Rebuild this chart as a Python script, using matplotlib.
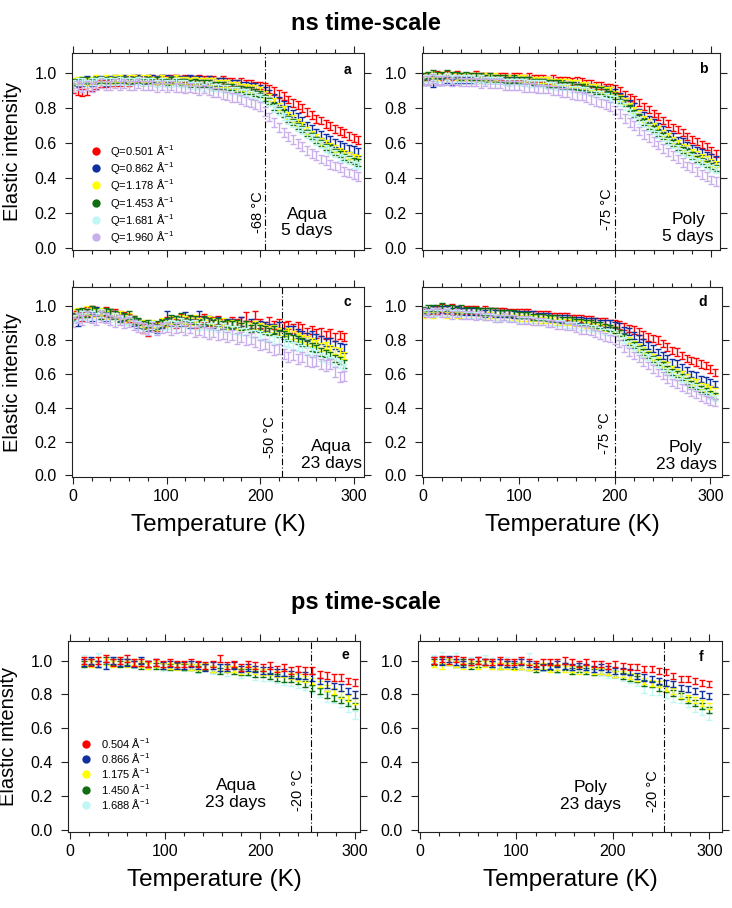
import numpy as np
import matplotlib
matplotlib.use("Agg")
import matplotlib.pyplot as plt
from matplotlib.lines import Line2D
from matplotlib.ticker import MultipleLocator, FormatStrFormatter

plt.rcParams['font.family'] = ['Liberation Sans', 'DejaVu Sans']
plt.rcParams['mathtext.fontset'] = 'custom'
plt.rcParams['mathtext.rm'] = 'Liberation Sans'
plt.rcParams['mathtext.it'] = 'Liberation Sans:italic'
plt.rcParams['mathtext.bf'] = 'Liberation Sans:bold'

# ---------------- data ----------------
# ns time-scale, temperature grid (K)
ns_temp = [0, 5, 10, 15, 20, 25, 30, 35, 40, 45,
           50, 55, 60, 65, 70, 75, 80, 85, 90, 95,
           100, 105, 110, 115, 120, 125, 130, 135, 140, 145,
           150, 155, 160, 165, 170, 175, 180, 185, 190, 195,
           200, 205, 210, 215, 220, 225, 230, 235, 240, 245,
           250, 255, 260, 265, 270, 275, 280, 285, 290, 295,
           300, 305]
ns_q_labels = ["Q=0.501 Å$^{-1}$", "Q=0.862 Å$^{-1}$", "Q=1.178 Å$^{-1}$",
               "Q=1.453 Å$^{-1}$", "Q=1.681 Å$^{-1}$", "Q=1.960 Å$^{-1}$"]

# panel a : Aqua 5 days
a_red = [0.91, 0.90, 0.89, 0.90, 0.92, 0.93, 0.94, 0.94, 0.95, 0.95,
         0.95, 0.96, 0.95, 0.96, 0.97, 0.96, 0.96, 0.97, 0.96, 0.97,
         0.96, 0.97, 0.97, 0.96, 0.97, 0.96, 0.96, 0.97, 0.96, 0.96,
         0.96, 0.95, 0.96, 0.95, 0.95, 0.94, 0.95, 0.94, 0.94, 0.93,
         0.93, 0.92, 0.91, 0.90, 0.88, 0.87, 0.85, 0.83, 0.82, 0.80,
         0.78, 0.76, 0.74, 0.73, 0.71, 0.70, 0.68, 0.67, 0.66, 0.64,
         0.63, 0.62]
a_blue = [0.94, 0.95, 0.95, 0.96, 0.95, 0.96, 0.96, 0.95, 0.96, 0.97,
          0.96, 0.97, 0.96, 0.97, 0.97, 0.96, 0.97, 0.97, 0.96, 0.97,
          0.97, 0.96, 0.97, 0.96, 0.96, 0.97, 0.96, 0.96, 0.95, 0.96,
          0.95, 0.95, 0.95, 0.94, 0.94, 0.94, 0.93, 0.93, 0.92, 0.92,
          0.91, 0.90, 0.88, 0.86, 0.84, 0.82, 0.79, 0.77, 0.75, 0.73,
          0.70, 0.68, 0.66, 0.65, 0.63, 0.62, 0.60, 0.59, 0.58, 0.57,
          0.56, 0.55]
a_yellow = [0.95, 0.96, 0.96, 0.95, 0.96, 0.97, 0.96, 0.97, 0.96, 0.97,
            0.97, 0.96, 0.97, 0.97, 0.96, 0.97, 0.97, 0.96, 0.96, 0.97,
            0.96, 0.96, 0.97, 0.96, 0.96, 0.95, 0.96, 0.95, 0.95, 0.95,
            0.95, 0.94, 0.94, 0.94, 0.93, 0.93, 0.92, 0.92, 0.91, 0.91,
            0.90, 0.88, 0.86, 0.84, 0.81, 0.79, 0.76, 0.74, 0.72, 0.70,
            0.67, 0.65, 0.63, 0.61, 0.60, 0.58, 0.57, 0.55, 0.54, 0.53,
            0.52, 0.51]
a_green = [0.95, 0.95, 0.96, 0.96, 0.95, 0.96, 0.96, 0.96, 0.95, 0.96,
           0.96, 0.96, 0.95, 0.96, 0.96, 0.95, 0.96, 0.95, 0.96, 0.95,
           0.95, 0.96, 0.95, 0.95, 0.95, 0.94, 0.95, 0.94, 0.94, 0.94,
           0.93, 0.93, 0.93, 0.92, 0.92, 0.91, 0.91, 0.90, 0.90, 0.89,
           0.88, 0.86, 0.84, 0.81, 0.79, 0.77, 0.74, 0.72, 0.70, 0.68,
           0.66, 0.64, 0.62, 0.60, 0.58, 0.57, 0.55, 0.54, 0.52, 0.51,
           0.50, 0.49]
a_cyan = [0.94, 0.95, 0.95, 0.94, 0.95, 0.95, 0.96, 0.95, 0.95, 0.95,
          0.96, 0.95, 0.95, 0.95, 0.96, 0.95, 0.95, 0.95, 0.94, 0.95,
          0.94, 0.94, 0.95, 0.94, 0.94, 0.93, 0.93, 0.93, 0.92, 0.93,
          0.92, 0.92, 0.91, 0.91, 0.90, 0.90, 0.89, 0.89, 0.88, 0.87,
          0.86, 0.85, 0.83, 0.80, 0.78, 0.75, 0.73, 0.71, 0.69, 0.67,
          0.65, 0.63, 0.61, 0.59, 0.57, 0.56, 0.54, 0.52, 0.51, 0.50,
          0.48, 0.47]
a_lilac = [0.92, 0.93, 0.92, 0.93, 0.92, 0.93, 0.94, 0.93, 0.93, 0.94,
           0.93, 0.94, 0.93, 0.93, 0.94, 0.93, 0.93, 0.93, 0.92, 0.93,
           0.92, 0.93, 0.92, 0.92, 0.91, 0.92, 0.91, 0.90, 0.91, 0.90,
           0.89, 0.89, 0.88, 0.87, 0.86, 0.86, 0.85, 0.84, 0.83, 0.82,
           0.81, 0.78, 0.75, 0.72, 0.69, 0.66, 0.64, 0.62, 0.60, 0.58,
           0.56, 0.54, 0.53, 0.51, 0.50, 0.48, 0.47, 0.46, 0.44, 0.43,
           0.42, 0.41]

# panel b : Poly 5 days
b_red = [0.97, 0.98, 0.98, 0.99, 0.98, 0.99, 0.98, 0.99, 0.98, 0.98,
         0.98, 0.99, 0.98, 0.98, 0.98, 0.97, 0.98, 0.98, 0.97, 0.98,
         0.98, 0.97, 0.98, 0.97, 0.97, 0.97, 0.96, 0.97, 0.96, 0.96,
         0.96, 0.95, 0.96, 0.95, 0.94, 0.94, 0.93, 0.93, 0.92, 0.92,
         0.91, 0.90, 0.88, 0.86, 0.85, 0.83, 0.81, 0.79, 0.77, 0.75,
         0.73, 0.71, 0.69, 0.68, 0.66, 0.64, 0.62, 0.61, 0.59, 0.58,
         0.56, 0.54]
b_blue = [0.95, 0.95, 0.94, 0.95, 0.95, 0.96, 0.95, 0.96, 0.96, 0.96,
          0.96, 0.96, 0.97, 0.96, 0.96, 0.96, 0.96, 0.96, 0.95, 0.96,
          0.96, 0.95, 0.96, 0.95, 0.95, 0.95, 0.94, 0.94, 0.94, 0.94,
          0.93, 0.93, 0.93, 0.92, 0.92, 0.92, 0.91, 0.91, 0.91, 0.90,
          0.89, 0.87, 0.85, 0.83, 0.81, 0.78, 0.76, 0.74, 0.72, 0.70,
          0.68, 0.66, 0.64, 0.62, 0.61, 0.59, 0.57, 0.56, 0.55, 0.53,
          0.52, 0.51]
b_yellow = [0.98, 0.99, 0.99, 0.98, 0.99, 0.98, 0.99, 0.98, 0.98, 0.98,
            0.98, 0.98, 0.97, 0.98, 0.97, 0.98, 0.97, 0.97, 0.97, 0.97,
            0.97, 0.97, 0.96, 0.96, 0.96, 0.96, 0.96, 0.95, 0.95, 0.95,
            0.95, 0.94, 0.94, 0.93, 0.93, 0.92, 0.92, 0.91, 0.90, 0.90,
            0.88, 0.86, 0.84, 0.81, 0.79, 0.77, 0.74, 0.72, 0.70, 0.68,
            0.66, 0.64, 0.62, 0.60, 0.58, 0.57, 0.55, 0.54, 0.52, 0.51,
            0.49, 0.48]
b_green = [0.98, 0.99, 1.00, 0.99, 0.99, 1.00, 0.99, 0.99, 0.98, 0.99,
           0.98, 0.98, 0.98, 0.97, 0.98, 0.97, 0.97, 0.97, 0.96, 0.97,
           0.96, 0.96, 0.96, 0.95, 0.95, 0.95, 0.94, 0.94, 0.94, 0.93,
           0.93, 0.93, 0.92, 0.92, 0.91, 0.91, 0.90, 0.90, 0.89, 0.88,
           0.87, 0.85, 0.83, 0.80, 0.77, 0.75, 0.72, 0.70, 0.68, 0.66,
           0.64, 0.62, 0.60, 0.58, 0.56, 0.55, 0.53, 0.51, 0.50, 0.48,
           0.47, 0.46]
b_cyan = [0.97, 0.97, 0.98, 0.97, 0.97, 0.98, 0.97, 0.97, 0.97, 0.97,
          0.97, 0.96, 0.97, 0.96, 0.96, 0.96, 0.96, 0.95, 0.95, 0.95,
          0.95, 0.95, 0.94, 0.94, 0.94, 0.94, 0.93, 0.93, 0.92, 0.92,
          0.92, 0.91, 0.91, 0.90, 0.90, 0.89, 0.88, 0.88, 0.87, 0.86,
          0.85, 0.83, 0.81, 0.78, 0.76, 0.73, 0.71, 0.69, 0.67, 0.65,
          0.63, 0.61, 0.59, 0.57, 0.55, 0.54, 0.52, 0.50, 0.49, 0.47,
          0.46, 0.45]
b_lilac = [0.96, 0.96, 0.97, 0.96, 0.96, 0.96, 0.95, 0.96, 0.95, 0.95,
           0.95, 0.95, 0.94, 0.95, 0.94, 0.94, 0.94, 0.93, 0.93, 0.93,
           0.93, 0.92, 0.92, 0.92, 0.91, 0.91, 0.91, 0.90, 0.90, 0.89,
           0.89, 0.88, 0.87, 0.87, 0.86, 0.85, 0.84, 0.83, 0.82, 0.81,
           0.79, 0.77, 0.74, 0.72, 0.70, 0.67, 0.65, 0.63, 0.61, 0.59,
           0.57, 0.55, 0.53, 0.51, 0.49, 0.47, 0.46, 0.44, 0.42, 0.41,
           0.39, 0.38]

# panel c : Aqua 23 days
nan = np.nan
c_red = [0.95, 0.96, 0.94, 0.97, 0.98, 0.97, 0.96, 0.97, 0.95, 0.96,
         0.95, 0.94, 0.93, 0.92, 0.90, 0.87, 0.85, 0.89, 0.88, 0.90,
         0.91, 0.92, 0.90, 0.93, 0.91, 0.92, 0.90, 0.92, 0.93, 0.91,
         0.91, 0.92, 0.90, 0.89, 0.91, 0.90, 0.91, 0.94, 0.89, 0.95,
         0.90, 0.88, 0.91, 0.89, 0.90, 0.88, 0.89, 0.87, 0.88, 0.87,
         0.85, 0.86, 0.84, 0.85, 0.83, 0.84, 0.82, 0.83, 0.82, nan,
         nan, nan]
c_blue = [0.93, 0.91, 0.95, 0.96, 0.94, 0.97, 0.95, 0.94, 0.96, 0.95,
          0.94, 0.93, 0.92, 0.91, 0.90, 0.89, 0.88, 0.89, 0.87, 0.90,
          0.95, 0.91, 0.92, 0.91, 0.94, 0.90, 0.92, 0.95, 0.91, 0.92,
          0.90, 0.91, 0.89, 0.90, 0.90, 0.89, 0.91, 0.89, 0.90, 0.88,
          0.89, 0.88, 0.87, 0.87, 0.88, 0.85, 0.86, 0.86, 0.84, 0.83,
          0.82, 0.83, 0.81, 0.80, 0.79, 0.79, 0.77, 0.76, 0.75, nan,
          nan, nan]
c_yellow = [0.96, 0.97, 0.96, 0.98, 0.97, 0.96, 0.97, 0.95, 0.96, 0.94,
            0.95, 0.93, 0.94, 0.92, 0.91, 0.90, 0.89, 0.90, 0.88, 0.91,
            0.90, 0.92, 0.91, 0.93, 0.92, 0.91, 0.93, 0.91, 0.90, 0.92,
            0.91, 0.90, 0.91, 0.89, 0.90, 0.89, 0.88, 0.89, 0.88, 0.89,
            0.88, 0.87, 0.86, 0.87, 0.85, 0.84, 0.85, 0.83, 0.82, 0.81,
            0.80, 0.79, 0.78, 0.76, 0.77, 0.75, 0.74, 0.73, 0.71, nan,
            nan, nan]
c_green = [0.94, 0.96, 0.97, 0.96, 0.98, 0.97, 0.95, 0.97, 0.96, 0.95,
           0.93, 0.94, 0.95, 0.92, 0.91, 0.89, 0.90, 0.88, 0.89, 0.90,
           0.91, 0.93, 0.92, 0.94, 0.91, 0.93, 0.92, 0.90, 0.92, 0.91,
           0.90, 0.91, 0.89, 0.90, 0.89, 0.90, 0.88, 0.89, 0.87, 0.88,
           0.87, 0.86, 0.85, 0.86, 0.84, 0.83, 0.82, 0.81, 0.80, 0.79,
           0.78, 0.76, 0.75, 0.73, 0.72, 0.71, 0.69, 0.68, 0.66, nan,
           nan, nan]
c_cyan = [0.93, 0.94, 0.95, 0.94, 0.95, 0.94, 0.96, 0.94, 0.93, 0.94,
          0.92, 0.91, 0.92, 0.90, 0.89, 0.88, 0.87, 0.89, 0.86, 0.88,
          0.89, 0.90, 0.89, 0.91, 0.90, 0.89, 0.90, 0.88, 0.89, 0.88,
          0.88, 0.87, 0.88, 0.87, 0.86, 0.86, 0.85, 0.85, 0.84, 0.84,
          0.83, 0.82, 0.82, 0.80, 0.80, 0.79, 0.78, 0.77, 0.76, 0.75,
          0.74, 0.73, 0.72, 0.70, 0.69, 0.68, 0.67, 0.66, 0.64, nan,
          nan, nan]
c_lilac = [0.91, 0.93, 0.92, 0.94, 0.93, 0.92, 0.94, 0.93, 0.92, 0.91,
           0.92, 0.90, 0.91, 0.89, 0.88, 0.87, 0.86, 0.88, 0.86, 0.87,
           0.88, 0.86, 0.87, 0.88, 0.86, 0.87, 0.85, 0.86, 0.85, 0.84,
           0.85, 0.83, 0.84, 0.82, 0.83, 0.81, 0.82, 0.80, 0.81, 0.79,
           0.77, 0.78, 0.76, 0.74, 0.75, 0.72, 0.70, 0.71, 0.69, 0.70,
           0.68, 0.67, 0.68, 0.66, 0.65, 0.66, 0.61, 0.58, 0.59, nan,
           nan, nan]

# panel d : Poly 23 days
d_red = [0.96, 0.97, 0.98, 0.98, 0.99, 0.98, 0.99, 0.98, 0.97, 0.98,
         0.98, 0.98, 0.97, 0.98, 0.97, 0.97, 0.97, 0.97, 0.96, 0.96,
         0.96, 0.96, 0.96, 0.95, 0.95, 0.95, 0.95, 0.94, 0.94, 0.94,
         0.94, 0.93, 0.93, 0.93, 0.92, 0.92, 0.91, 0.91, 0.91, 0.90,
         0.90, 0.89, 0.88, 0.87, 0.86, 0.85, 0.83, 0.82, 0.81, 0.80,
         0.78, 0.76, 0.74, 0.73, 0.71, 0.69, 0.68, 0.67, 0.66, 0.65,
         0.63, 0.61]
d_blue = [0.97, 0.97, 0.98, 0.97, 0.98, 0.98, 0.97, 0.98, 0.97, 0.97,
          0.97, 0.97, 0.97, 0.96, 0.97, 0.96, 0.96, 0.96, 0.96, 0.95,
          0.95, 0.95, 0.95, 0.95, 0.94, 0.94, 0.94, 0.93, 0.93, 0.93,
          0.93, 0.92, 0.92, 0.92, 0.91, 0.91, 0.91, 0.90, 0.90, 0.90,
          0.89, 0.88, 0.86, 0.85, 0.83, 0.81, 0.79, 0.77, 0.75, 0.73,
          0.71, 0.69, 0.67, 0.66, 0.64, 0.62, 0.60, 0.59, 0.57, 0.56,
          0.55, 0.54]
d_yellow = [0.95, 0.96, 0.95, 0.96, 0.96, 0.95, 0.96, 0.95, 0.95, 0.95,
            0.95, 0.95, 0.95, 0.94, 0.95, 0.94, 0.94, 0.94, 0.93, 0.94,
            0.93, 0.93, 0.93, 0.93, 0.92, 0.92, 0.92, 0.92, 0.91, 0.91,
            0.91, 0.91, 0.90, 0.90, 0.89, 0.89, 0.88, 0.88, 0.87, 0.87,
            0.86, 0.84, 0.82, 0.80, 0.78, 0.76, 0.74, 0.72, 0.70, 0.68,
            0.66, 0.65, 0.63, 0.61, 0.60, 0.58, 0.56, 0.55, 0.53, 0.52,
            0.51, 0.50]
d_green = [0.98, 0.99, 0.99, 0.99, 1.00, 0.99, 0.99, 0.98, 0.99, 0.98,
           0.98, 0.98, 0.97, 0.97, 0.97, 0.97, 0.96, 0.96, 0.96, 0.96,
           0.95, 0.95, 0.95, 0.94, 0.94, 0.94, 0.93, 0.93, 0.93, 0.92,
           0.92, 0.92, 0.91, 0.91, 0.90, 0.90, 0.89, 0.89, 0.88, 0.87,
           0.86, 0.84, 0.82, 0.79, 0.77, 0.75, 0.73, 0.71, 0.69, 0.67,
           0.65, 0.63, 0.61, 0.60, 0.58, 0.56, 0.54, 0.53, 0.51, 0.50,
           0.48, 0.47]
d_cyan = [0.96, 0.96, 0.97, 0.96, 0.96, 0.97, 0.96, 0.96, 0.96, 0.95,
          0.95, 0.95, 0.95, 0.94, 0.94, 0.94, 0.93, 0.93, 0.93, 0.93,
          0.92, 0.92, 0.92, 0.92, 0.91, 0.91, 0.91, 0.90, 0.90, 0.90,
          0.89, 0.89, 0.89, 0.88, 0.88, 0.87, 0.87, 0.86, 0.85, 0.85,
          0.84, 0.82, 0.80, 0.78, 0.76, 0.74, 0.72, 0.70, 0.68, 0.66,
          0.64, 0.62, 0.60, 0.58, 0.57, 0.55, 0.53, 0.52, 0.50, 0.49,
          0.47, 0.46]
d_lilac = [0.97, 0.96, 0.96, 0.97, 0.96, 0.96, 0.95, 0.96, 0.95, 0.95,
           0.95, 0.94, 0.95, 0.94, 0.94, 0.93, 0.93, 0.94, 0.93, 0.93,
           0.92, 0.92, 0.92, 0.91, 0.91, 0.91, 0.90, 0.90, 0.89, 0.89,
           0.88, 0.88, 0.87, 0.86, 0.86, 0.85, 0.84, 0.83, 0.82, 0.81,
           0.80, 0.78, 0.75, 0.73, 0.71, 0.69, 0.67, 0.65, 0.63, 0.61,
           0.59, 0.57, 0.55, 0.54, 0.52, 0.51, 0.49, 0.48, 0.46, 0.45,
           0.44, 0.43]

# ps time-scale
ps_temp = [15, 22.5, 30, 37.5, 45, 52.5, 60, 67.5, 75, 82.5,
           90, 97.5, 105, 112.5, 120, 127.5, 135, 142.5, 150, 157.5,
           165, 172.5, 180, 187.5, 195, 202.5, 210, 217.5, 225, 232.5,
           240, 247.5, 255, 262.5, 270, 277.5, 285, 292.5, 300]
ps_q_labels = ["0.504 Å$^{-1}$", "0.866 Å$^{-1}$", "1.175 Å$^{-1}$",
               "1.450 Å$^{-1}$", "1.688 Å$^{-1}$"]

e_red = [1.00, 0.99, 1.00, 1.01, 0.99, 1.00, 1.01, 0.99, 0.99, 0.98,
         0.99, 0.98, 0.99, 0.98, 0.98, 0.99, 0.98, 0.97, 0.98, 1.01,
         0.97, 0.98, 0.96, 0.98, 0.97, 0.96, 0.97, 0.95, 0.96, 0.94,
         0.95, 0.94, 0.94, 0.92, 0.91, 0.90, 0.90, 0.88, 0.87]
e_blue = [0.99, 1.00, 0.98, 0.97, 1.00, 0.99, 0.99, 0.98, 1.00, 0.98,
          0.99, 0.97, 0.98, 0.97, 0.97, 0.98, 0.97, 0.96, 0.97, 0.96,
          0.96, 0.97, 0.95, 0.96, 0.95, 0.94, 0.94, 0.93, 0.93, 0.92,
          0.91, 0.91, 0.90, 0.88, 0.86, 0.85, 0.84, 0.82, 0.80]
e_yellow = [0.99, 0.98, 1.00, 0.99, 0.98, 1.00, 0.98, 0.99, 0.98, 0.97,
            0.98, 0.97, 0.97, 0.96, 0.97, 0.96, 0.96, 0.97, 0.95, 0.96,
            0.95, 0.95, 0.94, 0.95, 0.94, 0.93, 0.93, 0.92, 0.92, 0.91,
            0.90, 0.89, 0.88, 0.86, 0.84, 0.82, 0.80, 0.78, 0.76]
e_green = [0.98, 0.99, 0.98, 1.00, 0.99, 0.98, 0.99, 0.98, 0.97, 0.98,
           0.97, 0.97, 0.96, 0.97, 0.96, 0.96, 0.95, 0.96, 0.95, 0.94,
           0.95, 0.94, 0.93, 0.93, 0.92, 0.92, 0.91, 0.90, 0.89, 0.89,
           0.88, 0.86, 0.84, 0.82, 0.80, 0.78, 0.77, 0.75, 0.73]
e_cyan = [1.01, 0.99, 1.02, 0.98, 1.00, 0.99, 1.01, 0.98, 0.99, 0.97,
          0.98, 0.96, 0.98, 0.97, 0.96, 0.97, 0.95, 0.96, 0.94, 0.95,
          0.93, 0.94, 0.92, 0.93, 0.91, 0.90, 0.90, 0.89, 0.88, 0.87,
          0.86, 0.85, 0.83, 0.81, 0.78, 0.77, 0.75, 0.72, 0.68]

f_red = [1.00, 1.01, 1.00, 1.01, 1.00, 0.99, 1.00, 0.99, 0.99, 1.00,
         0.99, 0.99, 1.00, 0.99, 0.98, 0.99, 0.99, 0.99, 1.00, 0.99,
         0.98, 0.99, 0.98, 0.98, 0.97, 0.98, 0.97, 0.96, 0.96, 0.95,
         0.95, 0.94, 0.93, 0.91, 0.89, 0.89, 0.88, 0.87, 0.86]
f_blue = [1.00, 0.99, 1.01, 0.99, 0.98, 0.99, 1.00, 0.99, 0.98, 0.99,
          0.98, 0.98, 0.99, 0.98, 0.97, 0.96, 0.97, 0.98, 0.97, 0.96,
          0.97, 0.96, 0.95, 0.96, 0.95, 0.94, 0.94, 0.93, 0.91, 0.90,
          0.89, 0.88, 0.87, 0.86, 0.84, 0.83, 0.82, 0.80, 0.79]
f_yellow = [0.98, 0.97, 0.99, 0.98, 0.97, 0.98, 0.97, 0.98, 0.97, 0.97,
            0.97, 0.96, 0.97, 0.96, 0.96, 0.97, 0.95, 0.96, 0.95, 0.95,
            0.94, 0.95, 0.94, 0.94, 0.93, 0.92, 0.92, 0.91, 0.90, 0.88,
            0.87, 0.86, 0.84, 0.82, 0.80, 0.78, 0.77, 0.75, 0.73]
f_green = [0.99, 1.00, 0.99, 0.98, 0.99, 0.97, 0.98, 0.99, 0.98, 0.97,
           0.98, 0.97, 0.97, 0.96, 0.95, 0.96, 0.96, 0.95, 0.96, 0.94,
           0.95, 0.94, 0.93, 0.94, 0.93, 0.92, 0.91, 0.90, 0.89, 0.87,
           0.86, 0.84, 0.83, 0.81, 0.79, 0.77, 0.75, 0.73, 0.71]
f_cyan = [1.01, 1.03, 1.00, 1.02, 0.99, 1.00, 0.98, 1.01, 0.99, 0.98,
          1.00, 0.97, 0.99, 1.02, 0.97, 0.96, 0.98, 0.95, 0.97, 0.96,
          0.95, 0.96, 0.94, 0.93, 0.92, 0.92, 0.90, 0.89, 0.87, 0.83,
          0.82, 0.82, 0.80, 0.78, 0.77, 0.75, 0.72, 0.70, 0.67]

# error bar half-widths per series
err_a = [0.022, 0.022, 0.02, 0.018, 0.02, 0.025]
err_b = [0.02, 0.018, 0.018, 0.018, 0.018, 0.025]
err_c = [0.025, 0.025, 0.022, 0.022, 0.022, 0.03]
err_d = [0.022, 0.02, 0.018, 0.018, 0.018, 0.022]
err_e = [0.02, 0.02, 0.018, 0.018, 0.022]
err_f = [0.018, 0.018, 0.018, 0.018, 0.022]

colors = ['#ff0000', '#1030a0', '#ffff00', '#126e12', '#bff7f7', '#c8aeea']


def panel(ax, temps, series, errs, xlim, line_T, line_txt, line_pos,
          sample, sample_pos, letter, letter_pos, xlabels=True,
          red_on_top=False):
    traces = list(zip(series, errs, colors))
    if red_on_top:
        traces = traces[::-1]
    for ys, e, c in traces:
        ax.errorbar(temps, ys, yerr=e, fmt='none', ecolor=c,
                    elinewidth=1.0, capsize=2.2, capthick=1.0)
    ax.axvline(line_T, color='black', lw=0.8, ls=(0, (6, 2, 1, 2)))
    ax.text(*line_pos, line_txt, transform=ax.transAxes, rotation=90,
            ha='center', va='center', fontsize=10.5)
    ax.text(*sample_pos, sample, transform=ax.transAxes, ha='center',
            va='center', fontsize=12.5, linespacing=1.15)
    ax.text(*letter_pos, letter, transform=ax.transAxes, ha='center',
            va='center', fontsize=10, fontweight='bold')
    ax.set_xlim(*xlim)
    ax.set_ylim(-0.01, 1.115)
    ax.xaxis.set_major_locator(MultipleLocator(100))
    ax.xaxis.set_minor_locator(MultipleLocator(20))
    ax.yaxis.set_major_locator(MultipleLocator(0.2))
    ax.yaxis.set_major_formatter(FormatStrFormatter('%.1f'))
    ax.tick_params(which='both', direction='out', top=True, right=True,
                   width=0.8, labelsize=11.5, color='#222222')
    ax.tick_params(which='major', length=5)
    ax.tick_params(which='minor', length=2.8)
    ax.tick_params(axis='y', pad=6)
    ax.tick_params(axis='x', pad=3.5, labelbottom=xlabels)
    for s in ax.spines.values():
        s.set_linewidth(0.8)
        s.set_color('#222222')


def add_legend(ax, labels, anchor):
    handles = [Line2D([], [], ls='', marker='o', ms=6, color=c, mew=0)
               for c in colors[:len(labels)]]
    ax.legend(handles, labels, loc='upper left', bbox_to_anchor=anchor,
              frameon=False, fontsize=8, handlelength=0.8,
              handletextpad=0.9, labelspacing=0.12, borderpad=0,
              borderaxespad=0)


fig = plt.figure(figsize=(7.32, 9.08), dpi=100)
W, H = 732, 908


def box(l, r, t, b):
    return [l / W, (H - b) / H, (r - l) / W, (b - t) / H]


ax_a = fig.add_axes(box(72, 364, 53, 250))
ax_b = fig.add_axes(box(422, 720, 53, 250))
ax_c = fig.add_axes(box(72, 364, 287, 477))
ax_d = fig.add_axes(box(422, 722, 287, 477))
ax_e = fig.add_axes(box(68, 360, 641, 832))
ax_f = fig.add_axes(box(418, 722, 641, 832))

panel(ax_a, ns_temp, [a_red, a_blue, a_yellow, a_green, a_cyan, a_lilac],
      err_a, (-1, 311), 205, "-68 °C", (0.637, 0.193),
      "Aqua\n5 days", (0.805, 0.14), "a", (0.942, 0.914), xlabels=False)
panel(ax_b, ns_temp, [b_red, b_blue, b_yellow, b_green, b_cyan, b_lilac],
      err_b, (-1, 309), 200, "-75 °C", (0.621, 0.208),
      "Poly\n5 days", (0.893, 0.11), "b", (0.943, 0.92), xlabels=False)
panel(ax_c, ns_temp, [c_red, c_blue, c_yellow, c_green, c_cyan, c_lilac],
      err_c, (-1, 311), 223, "-50 °C", (0.678, 0.21),
      "Aqua\n23 days", (0.887, 0.116), "c", (0.942, 0.92))
panel(ax_d, ns_temp, [d_red, d_blue, d_yellow, d_green, d_cyan, d_lilac],
      err_d, (-1, 312), 200, "-75 °C", (0.61, 0.23),
      "Poly\n23 days", (0.88, 0.11), "d", (0.937, 0.92))
panel(ax_e, ps_temp, [e_red, e_blue, e_yellow, e_green, e_cyan],
      err_e, (-2, 305), 253, "-20 °C", (0.788, 0.22),
      "Aqua\n23 days", (0.575, 0.199), "e", (0.949, 0.927), red_on_top=True)
panel(ax_f, ps_temp, [f_red, f_blue, f_yellow, f_green, f_cyan],
      err_f, (-2, 313), 253, "-20 °C", (0.773, 0.215),
      "Poly\n23 days", (0.566, 0.188), "f", (0.931, 0.916), red_on_top=True)

add_legend(ax_a, ns_q_labels, (0.066, 0.545))
add_legend(ax_e, ps_q_labels, (0.047, 0.505))

for ax in (ax_a, ax_c, ax_e):
    ax.set_ylabel("Elastic intensity", fontsize=14.5, labelpad=9)
for ax in (ax_c, ax_d, ax_e, ax_f):
    ax.set_xlabel("Temperature (K)", fontsize=17.5, labelpad=7)

fig.text(0.5, 1 - 24 / H, "ns time-scale", ha='center', va='center',
         fontsize=17, fontweight='bold')
fig.text(0.5, 1 - 603 / H, "ps time-scale", ha='center', va='center',
         fontsize=17, fontweight='bold')

fig.savefig("out.png", dpi=100)
